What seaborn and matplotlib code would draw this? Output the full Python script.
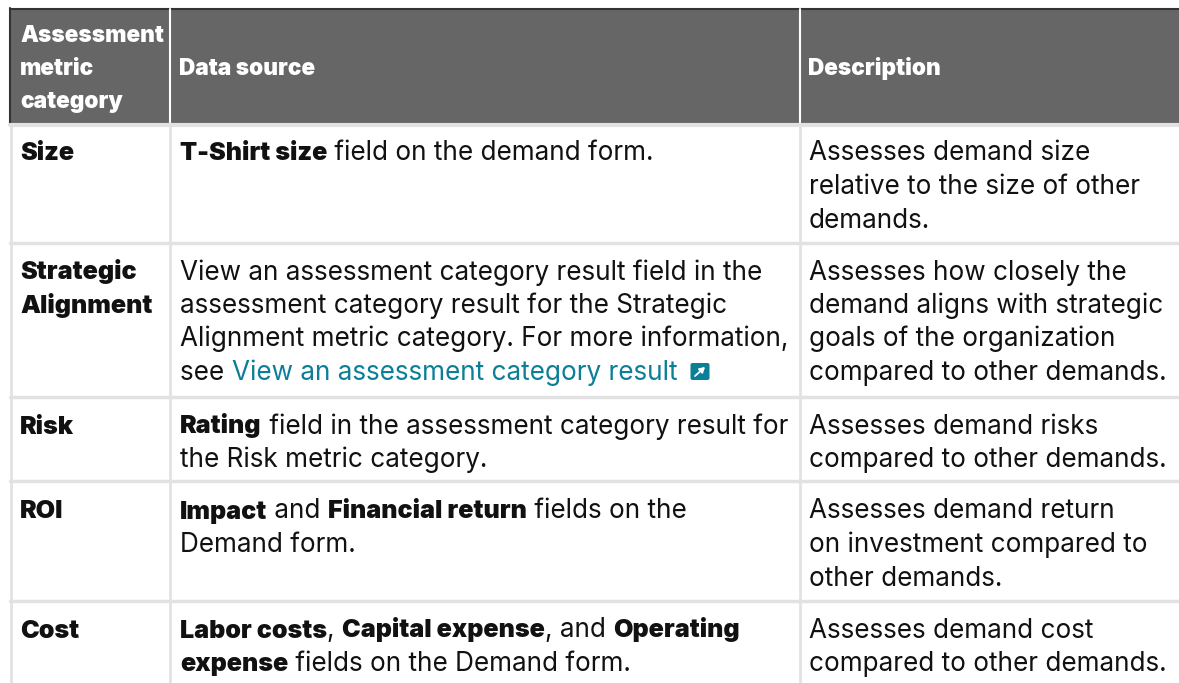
import matplotlib
matplotlib.use("Agg")
import matplotlib.pyplot as plt
from matplotlib.patches import Rectangle, FancyBboxPatch
import seaborn as sns

sns.set_theme(style="white")
FONT = ["Inter", "DejaVu Sans"]
plt.rcParams["font.family"] = FONT

headers = [["Assessment", "metric", "category"], ["Data source"], ["Description"]]
# each line is a list of (text, bold, link) runs
col1 = [["Size"], ["Strategic", "Alignment"], ["Risk"], ["ROI"], ["Cost"]]
col2 = [
    [[("T-Shirt size", 1, 0), (" field on the demand form.", 0, 0)]],
    [[("View an assessment category result field in the", 0, 0)],
     [("assessment category result for the Strategic", 0, 0)],
     [("Alignment metric category. For more information,", 0, 0)],
     [("see ", 0, 0), ("View an assessment category result", 0, 1)]],
    [[("Rating", 1, 0), (" field in the assessment category result for", 0, 0)],
     [("the Risk metric category.", 0, 0)]],
    [[("Impact", 1, 0), (" and ", 0, 0), ("Financial return", 1, 0), (" fields on the", 0, 0)],
     [("Demand form.", 0, 0)]],
    [[("Labor costs", 1, 0), (", ", 0, 0), ("Capital expense", 1, 0), (", and ", 0, 0), ("Operating", 1, 0)],
     [("expense", 1, 0), (" fields on the Demand form.", 0, 0)]],
]
col3 = [
    ["Assesses demand size", "relative to the size of other", "demands."],
    ["Assesses how closely the", "demand aligns with strategic", "goals of the organization", "compared to other demands."],
    ["Assesses demand risks", "compared to other demands."],
    ["Assesses demand return", "on investment compared to", "other demands."],
    ["Assesses demand cost", "compared to other demands."],
]
row_first_baselines = [160.5, 279.5, 433.5, 518.5, 637.5]
row_rules = [125, 243, 397, 481, 601]
col_rules = [169.5, 799.5]
col_x = [20, 179, 808]
body_x = [20, 180, 809]
header_baselines = [42, 75, 108]
line_h = 33.5

HEAD, RULE, INK, LINK = "#666666", "#e2e2e2", "#111111", "#0b7f98"
SIZE = 18.8
BOLD = 18.1
HSIZE = 16.3

fig = plt.figure(figsize=(11.79, 6.83), dpi=100)
ax = fig.add_axes([0, 0, 1, 1])
ax.set_xlim(0, 1179)
ax.set_ylim(683, 0)
ax.axis("off")

ax.add_patch(Rectangle((10, 9), 1169, 115, fc=HEAD, ec="none"))
ax.plot([10, 1179], [8.5, 8.5], color="#333333", lw=1.5)
ax.plot([10, 10], [8, 124], color="#333333", lw=1.5)
ax.plot([10.5, 10.5], [124, 683], color=RULE, lw=2)
for x in col_rules:
    ax.plot([x, x], [9, 124], color="white", lw=1.5)
    ax.plot([x, x], [124, 683], color=RULE, lw=2)
for y in row_rules:
    ax.plot([10, 1179], [y, y], color=RULE, lw=3 if y == row_rules[0] else 2.5)

for i, lines in enumerate(headers):
    bl = header_baselines if len(lines) == 3 else [75]
    for t, y in zip(lines, bl):
        ax.text(col_x[i], y, t, color="white", fontsize=HSIZE, fontweight=900, va="baseline")

fig.canvas.draw()
rend = fig.canvas.get_renderer()

def put_runs(x, y, runs):
    for text, bold, link in runs:
        kw = dict(fontsize=BOLD if bold else SIZE, fontweight=900 if bold else 400, va="baseline",
                  color=LINK if link else INK)
        t = ax.text(x, y, text.replace(" ", "\u00a0"), **kw)
        x += t.get_window_extent(rend).width
    return x

for r, y0 in enumerate(row_first_baselines):
    for k, t in enumerate(col1[r]):
        ax.text(body_x[0], y0 + k * line_h, t, color=INK, fontsize=BOLD, fontweight=900, va="baseline")
    for k, runs in enumerate(col2[r]):
        put_runs(body_x[1], y0 + k * line_h, runs)
        if any(run[2] for run in runs):
            yb = y0 + k * line_h
            ax.add_patch(FancyBboxPatch((692.5, yb - 15), 15, 13, boxstyle="round,pad=2,rounding_size=2", fc=LINK, ec="none"))
            ax.annotate("", xy=(705, yb - 13), xytext=(695, yb - 4),
                        arrowprops=dict(arrowstyle="-|>,head_width=0.15,head_length=0.25", color="white", lw=1.3, shrinkA=0, shrinkB=0))
    for k, t in enumerate(col3[r]):
        ax.text(body_x[2], y0 + k * line_h, t, color=INK, fontsize=SIZE, va="baseline")

fig.savefig("out.png", dpi=100, facecolor="white")
